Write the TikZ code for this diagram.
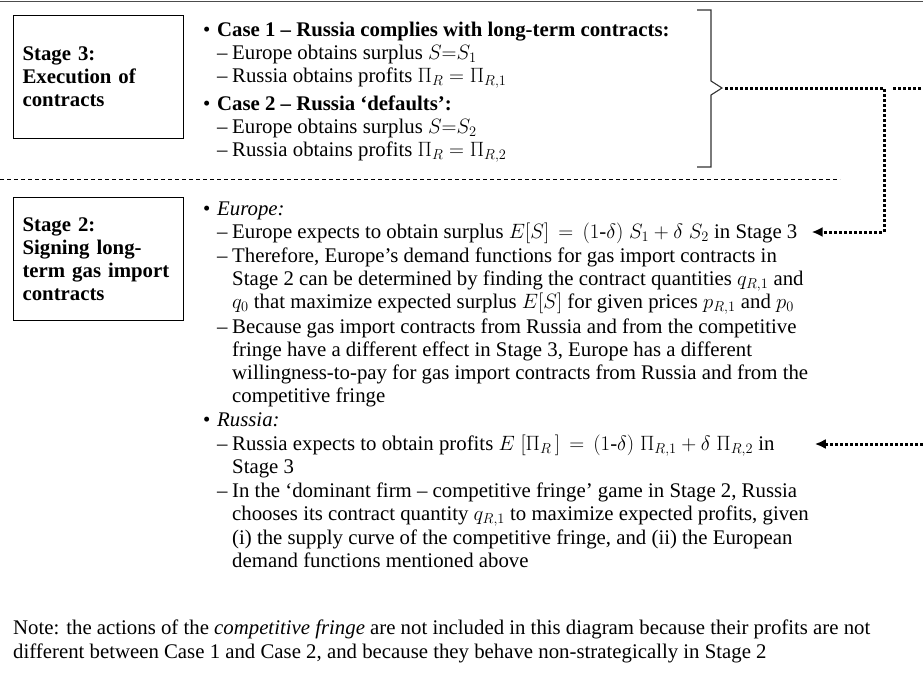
\documentclass[tikz,border=0pt]{standalone}
\usepackage{fontspec}
\setmainfont{Liberation Serif}
\usetikzlibrary{arrows.meta}
\begin{document}
\begin{tikzpicture}[x=1pt,y=-1pt,
  txt/.style={anchor=base west, inner sep=0pt, font=\fontsize{20.8}{24}\selectfont},
  stagebox/.style={draw, line width=1.1pt, anchor=north west, minimum width=170pt, minimum height=123pt,
     text width=152pt, inner xsep=9pt, align=left, font=\fontsize{20.8}{23}\selectfont\bfseries},
  dotline/.style={line width=3pt, dash pattern=on 3pt off 2pt},
  arr/.style={-{Latex[length=11pt,width=10pt]}},
  bracketline/.style={line width=1.1pt, black!80},
  sep/.style={line width=0.8pt, dash pattern=on 4pt off 3pt}]
\useasboundingbox (0,0) rectangle (923,696);
\newcommand{\bul}{\makebox[14pt][l]{•}}
\newcommand{\dsh}{\makebox[15pt][l]{–}}

% top rule
\coordinate (tl) at (0,1.5);
\coordinate (tr) at (923,1.5);
\draw[line width=1.3pt, black!70] (tl) -- (tr);

% Stage boxes
\node[stagebox] (s3) at (13,15) {Stage 3:\\Execution of\\contracts};
\node[stagebox] (s2) at (13,197) {Stage 2:\\Signing long-\\term gas import\\contracts};

% Stage 3 text
\node[txt] (c1)  at (203,36)  {\bul\textbf{Case 1 – Russia complies with long-term contracts:}};
\node[txt] (c1a) at (217,59)  {\dsh Europe obtains surplus $S{=}S_1$};
\node[txt] (c1b) at (217,82)  {\dsh Russia obtains profits $\Pi_R = \Pi_{R,1}$};
\node[txt] (c2)  at (203,110) {\bul\textbf{Case 2 – Russia ‘defaults’:}};
\node[txt] (c2a) at (217,133) {\dsh Europe obtains surplus $S{=}S_2$};
\node[txt] (c2b) at (217,156) {\dsh Russia obtains profits $\Pi_R = \Pi_{R,2}$};

% bracket
\draw[bracketline] (697,10) -- (711,10) -- (711,81) -- (722,88) -- (711,95) -- (711,167) -- (697,167);
\coordinate (brk) at (725,88);

% separator
\coordinate (sl) at (0,179);
\coordinate (sr) at (840,179);
\draw[sep] (sl) -- (sr);

% Stage 2 text
\node[txt] (eu)  at (203,215) {\bul\textit{Europe:}};
\node[txt] (e1)  at (217,238) {\dsh Europe expects to obtain surplus $E[S]\,=\,(1\mbox{-}\delta)\;S_1+\delta\;S_2$ in Stage 3};
\node[txt] (e2)  at (217,262) {\dsh Therefore, Europe’s demand functions for gas import contracts in};
\node[txt] (e2b) at (232,285) {Stage 2 can be determined by finding the contract quantities $q_{R,1}$ and};
\node[txt] (e2c) at (232,308) {$q_0$ that maximize expected surplus $E[S]$ for given prices $p_{R,1}$ and $p_0$};
\node[txt] (e3)  at (217,333) {\dsh Because gas import contracts from Russia and from the competitive};
\node[txt] (e3b) at (232,356) {fringe have a different effect in Stage 3, Europe has a different};
\node[txt] (e3c) at (232,379) {willingness-to-pay for gas import contracts from Russia and from the};
\node[txt] (e3d) at (232,402) {competitive fringe};
\node[txt] (ru)  at (203,426) {\bul\textit{Russia:}};
\node[txt] (r1)  at (217,450) {\dsh Russia expects to obtain profits $E\;[\Pi_R\,]\,=\,(1\mbox{-}\delta)\;\Pi_{R,1}+\delta\;\Pi_{R,2}$ in};
\node[txt] (r1b) at (232,473) {Stage 3};
\node[txt] (r2)  at (217,497) {\dsh In the ‘dominant firm – competitive fringe’ game in Stage 2, Russia};
\node[txt] (r2b) at (232,520) {chooses its contract quantity $q_{R,1}$ to maximize expected profits, given};
\node[txt] (r2c) at (232,544) {(i) the supply curve of the competitive fringe, and (ii) the European};
\node[txt] (r2d) at (232,567) {demand functions mentioned above};

% note
\node[txt] (n1) at (13,634) {Note: the actions of the \textit{competitive fringe} are not included in this diagram because their profits are not};
\node[txt] (n2) at (13,658) {different between Case 1 and Case 2, and because they behave non-strategically in Stage 2};

% dotted connectors
\coordinate (jn) at (884,88);
\coordinate (t1) at ([shift={(14pt,6pt)}]e1.base east);
\draw[dotline, arr] (brk) -- (jn) -- (jn |- t1) -- (t1);
\coordinate (rx1) at (893,88);
\coordinate (rx2) at (923,88);
\draw[dotline] (rx1) -- (rx2);
\coordinate (t2) at ([shift={(40pt,6pt)}]r1.base east);
\coordinate (rx3) at (923,0);
\draw[dotline, arr] (rx3 |- t2) -- (t2);
\end{tikzpicture}
\end{document}
